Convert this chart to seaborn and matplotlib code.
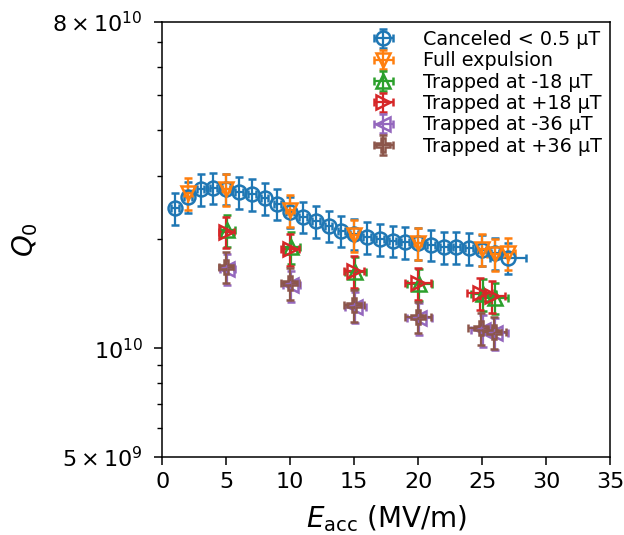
import numpy as np
import seaborn as sns
import matplotlib
matplotlib.use('Agg')
import matplotlib.pyplot as plt
from matplotlib.ticker import FixedLocator, MultipleLocator, NullFormatter

# Data (Q0 in units of 1e10, E_acc in MV/m)
e_cancel = [1, 2, 3, 4, 5, 6, 7, 8, 9, 10, 11, 12, 13, 14, 15, 16, 17, 18,
            19, 20, 21, 22, 23, 24, 25, 26, 27]
q_cancel = [2.44, 2.62, 2.75, 2.78, 2.76, 2.70, 2.66, 2.60, 2.51, 2.38, 2.31,
            2.24, 2.18, 2.11, 2.07, 2.025, 2.00, 1.98, 1.96, 1.95, 1.93, 1.90,
            1.90, 1.89, 1.87, 1.83, 1.78]
xerr_cancel = [0.3] * 26 + [1.4]

e_full = [2, 5, 10, 15, 20, 25, 26, 27]
q_full = [2.68, 2.75, 2.41, 2.05, 1.95, 1.88, 1.82, 1.83]
xerr_full = [0.3, 0.3, 0.3, 0.3, 0.3, 0.5, 0.6, 0.6]

e_m18 = [5.1, 10.1, 15.1, 20.1, 25.1, 26.0]
q_m18 = [2.12, 1.90, 1.62, 1.50, 1.41, 1.38]

e_p18 = [5.0, 10.0, 15.0, 20.0, 24.8, 25.8]
q_p18 = [2.10, 1.88, 1.63, 1.51, 1.42, 1.39]

e_m36 = [5.1, 10.1, 15.1, 20.1, 25.1, 26.0]
q_m36 = [1.66, 1.49, 1.30, 1.21, 1.12, 1.10]

e_p36 = [5.0, 10.0, 15.0, 20.0, 24.9, 25.9]
q_p36 = [1.68, 1.51, 1.315, 1.22, 1.137, 1.108]

xerr_trap = [0.6, 0.7, 0.8, 1.0, 1.0, 1.0]

series = [
    ('Canceled < 0.5 µT', e_cancel, q_cancel, xerr_cancel, 'o'),
    ('Full expulsion', e_full, q_full, xerr_full, 'v'),
    ('Trapped at -18 µT', e_m18, q_m18, xerr_trap, '^'),
    ('Trapped at +18 µT', e_p18, q_p18, xerr_trap, '>'),
    ('Trapped at -36 µT', e_m36, q_m36, xerr_trap, '<'),
    ('Trapped at +36 µT', e_p36, q_p36, xerr_trap, 'P'),
]

sns.set_theme(style='ticks', rc={
    'axes.edgecolor': 'black', 'text.color': 'black',
    'axes.labelcolor': 'black', 'xtick.color': 'black', 'ytick.color': 'black',
})
plt.rcParams['font.family'] = ['DejaVu Sans']
plt.rcParams['mathtext.fontset'] = 'dejavusans'

colors = sns.color_palette('tab10')

fig = plt.figure(figsize=(6.24, 5.35), dpi=100)
ax = fig.add_axes([0.26, 0.1458, 0.7176, 0.814])

for i, (label, e, q, xe, m) in enumerate(series):
    q = np.array(q) * 1e10
    ax.errorbar(e, q, yerr=0.1 * q, xerr=xe, fmt=m, color=colors[i],
                mfc='none', mec=colors[i], ms=10, mew=1.8, elinewidth=1.6,
                capsize=2.8, capthick=1.6, label=label)

ax.set_yscale('log')
ax.set_ylim(5e9, 8e10)
ax.set_xlim(0, 35)
ax.xaxis.set_major_locator(MultipleLocator(5))
ax.yaxis.set_major_locator(FixedLocator([5e9, 1e10, 8e10]))
ax.set_yticklabels([r'$5\times10^{9}$', r'$10^{10}$', r'$8\times10^{10}$'])
ax.yaxis.set_minor_locator(FixedLocator(
    [6e9, 7e9, 8e9, 9e9, 2e10, 3e10, 4e10, 5e10, 6e10, 7e10]))
ax.yaxis.set_minor_formatter(NullFormatter())
ax.tick_params(axis='both', which='major', labelsize=16, length=6, width=1.1)
ax.tick_params(axis='x', which='major', pad=5)
ax.tick_params(axis='y', which='major', pad=8)
ax.tick_params(axis='y', which='minor', length=3.6, width=1)
for s in ax.spines.values():
    s.set_linewidth(1.1)

ax.set_xlabel(r'$E_\mathrm{acc}$ (MV/m)', fontsize=20, labelpad=8)
ax.set_ylabel(r'$Q_0$', fontsize=20, labelpad=9)
ax.legend(loc='upper right', frameon=False, fontsize=13.8,
          handletextpad=1.05, labelspacing=0.12, borderpad=0.2,
          borderaxespad=0.25)

fig.savefig('out.png', dpi=100)
